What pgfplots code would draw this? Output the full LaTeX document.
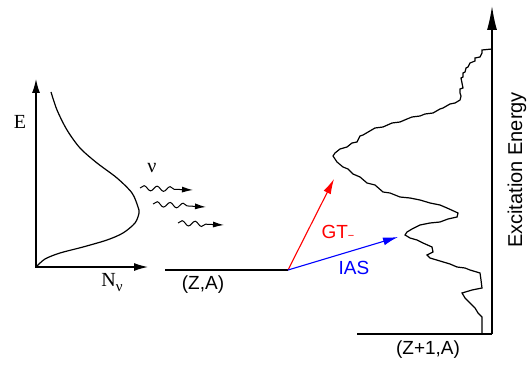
\documentclass[border=0pt]{standalone}
\usepackage{pgfplots}
\pgfplotsset{compat=1.18}
\usepackage{fontspec}
\setmainfont{Liberation Sans}
\newfontfamily\serif{Liberation Serif}
\usetikzlibrary{arrows.meta,decorations.pathmorphing}
\begin{document}
\begin{tikzpicture}
\begin{axis}[width=532pt,height=366pt,scale only axis,
  xmin=0,xmax=532,ymin=0,ymax=366,y dir=reverse,
  hide axis, clip=false]
\path (rel axis cs:0,0) rectangle (rel axis cs:1,1);
% left axes
\addplot[black, line width=1.3pt, -{Latex[length=14pt,width=8pt]}] coordinates {(36,267) (36,79)};
\addplot[black, line width=1.3pt, -{Latex[length=14pt,width=8pt]}] coordinates {(35,267) (148,267)};
% spectrum curve
\addplot[black, line width=1.2pt, smooth] coordinates {
(51,92) (57,110) (67,130) (80,148) (97,163) (117,178) (132,193) (138,207) (139,213)
(135,223) (123,233) (107,240) (83,247) (60,253) (45,259) (36,267)};
% wavy arrows
\addplot[black, line width=1pt, decorate, decoration={snake, amplitude=2.5pt, segment length=13pt, post length=14pt}, -{Latex[length=11pt,width=6pt]}] coordinates {(140,188) (193,190)};
\addplot[black, line width=1pt, decorate, decoration={snake, amplitude=2.5pt, segment length=13pt, post length=14pt}, -{Latex[length=11pt,width=6pt]}] coordinates {(153,204) (206,207)};
\addplot[black, line width=1pt, decorate, decoration={snake, amplitude=2.5pt, segment length=13pt, post length=14pt}, -{Latex[length=11pt,width=6pt]}] coordinates {(178,223) (224,225)};
% (Z,A) level
\addplot[black, line width=1.1pt] coordinates {(165,270) (288,270)};
% transitions
\addplot[red, line width=1.1pt, -{Latex[length=15pt,width=8pt]}] coordinates {(288,270) (334,179)};
\addplot[blue, line width=1.1pt, -{Latex[length=15pt,width=8pt]}] coordinates {(288,270) (398,237)};
% right axis
\addplot[black, line width=1.3pt, -{Latex[length=24pt,width=10pt]}] coordinates {(492,334) (492,6)};
\addplot[black, line width=1.3pt] coordinates {(357,334) (492,334)};
% histogram
\addplot[black, line width=1.2pt, line join=miter] coordinates {
(492,49) (482,50) (482,53) (480,57) (475,58) (475,61) (470,63) (468,67) (466,68) (465,72) (463,73) (463,77) (461,78) (462,83)
(463,88) (460,89) (460,93) (461,96) (460,100) (455,103) (450,104) (443,108) (440,109) (433,113) (425,114) (420,116) (412,117) (407,119)
(400,122) (392,123) (383,127) (375,128) (363,135) (360,136) (357,142) (352,143) (347,147) (340,149) (335,153) (333,156) (337,162)
(343,167) (348,169) (353,174) (360,177) (367,183) (375,185) (383,192) (390,193) (400,197) (410,198) (420,200) (430,203) (440,205) (447,208)
(458,213) (457,217) (448,219) (440,222) (430,223) (420,225) (412,229) (407,232) (405,235) (410,238) (417,240) (423,243)
(432,247) (433,252) (427,255) (430,258) (440,261) (450,264) (457,267) (465,268) (470,270)
(480,273) (481,280) (482,288) (472,290) (462,293) (465,298) (470,303) (472,305) (475,308) (478,313)
(482,317) (482,334)};
% labels
\node[font=\serif\fontsize{20}{20}\selectfont] at (axis cs:20,122) {E};
\node[font=\serif\fontsize{20}{20}\selectfont] at (axis cs:152,168) {ν};
\node[font=\serif\fontsize{20}{20}\selectfont, anchor=base] at (axis cs:112,286) {N\raisebox{-5pt}{\fontsize{15}{15}\selectfont ν}};
\node[font=\fontsize{19}{19}\selectfont] at (axis cs:203,285) {(Z,A)};
\node[font=\fontsize{19}{19}\selectfont, text=red, anchor=base west] at (axis cs:318,238) {GT\raisebox{-1pt}{\fontsize{11}{11}\selectfont −}};
\node[font=\fontsize{19}{19}\selectfont, text=blue] at (axis cs:354,268) {IAS};
\node[font=\fontsize{19}{19}\selectfont] at (axis cs:428,350) {(Z+1,A)};
\node[font=\fontsize{20}{20}\selectfont, rotate=90] at (axis cs:517,170) {Excitation Energy};
\end{axis}
\end{tikzpicture}
\end{document}
